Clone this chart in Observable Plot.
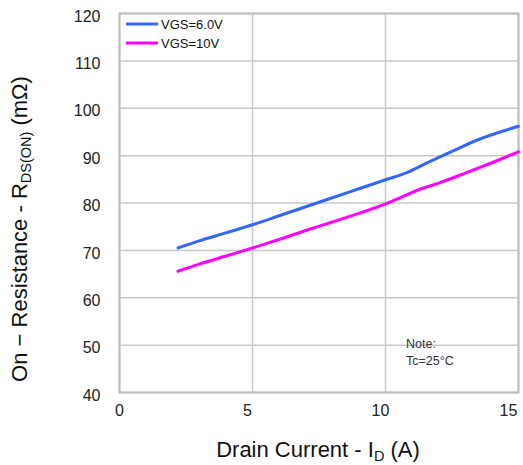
<!DOCTYPE html>
<html><head><meta charset="utf-8">
<script src="https://cdn.jsdelivr.net/npm/d3@7"></script>
<script src="https://cdn.jsdelivr.net/npm/@observablehq/plot@0.6"></script>
<style>body{margin:0;background:#fff}</style>
</head><body><div id="chart"></div>
<script>
const seriesNames = ["VGS=6.0V", "VGS=10V"];
const seriesColors = ["#3366ff", "#ff00ff"];
const currentVgs6 = [2.2, 3, 4, 5, 6, 7, 8, 9, 10, 10.8, 11.5, 12.5, 13.5, 15];
const rdsVgs6 = [70.5, 72, 73.7, 75.4, 77.3, 79.2, 81.1, 83, 84.9, 86.4, 88.3, 90.9, 93.4, 96.2];
const currentVgs10 = [2.2, 3, 4, 5, 6, 7, 8, 9, 10, 10.5, 11.3, 12, 13, 14, 15];
const rdsVgs10 = [65.6, 67.1, 68.8, 70.5, 72.3, 74.2, 76, 77.8, 79.8, 81, 82.9, 84.2, 86.3, 88.5, 90.8];
const xTicks = [0, 5, 10, 15];
const yTicks = [40, 50, 60, 70, 80, 90, 100, 110, 120];

const data = [
  ...currentVgs6.map((x, i) => ({series: seriesNames[0], x, y: rdsVgs6[i]})),
  ...currentVgs10.map((x, i) => ({series: seriesNames[1], x, y: rdsVgs10[i]}))
];

const font = "Liberation Sans, Arial, sans-serif";
const tickStyle = {tickSize: 0, fontSize: 16, fill: "#222", label: null};
const plot = Plot.plot({
  width: 523, height: 465,
  marginLeft: 119, marginRight: 5, marginTop: 13, marginBottom: 73,
  style: {fontFamily: font, background: "#fff"},
  x: {domain: [0, 15], label: null},
  y: {domain: [40, 120], label: null},
  color: {domain: seriesNames, range: seriesColors},
  marks: [
    Plot.gridX(xTicks, {stroke: "#c8c8c8", strokeOpacity: 1, strokeWidth: 1.5}),
    Plot.gridY(yTicks, {stroke: "#c8c8c8", strokeOpacity: 1, strokeWidth: 1.5}),
    Plot.frame({stroke: "#bdbdbd", strokeWidth: 2}),
    Plot.axisX(xTicks.slice(0, 1), {...tickStyle, tickPadding: 12}),
    Plot.axisX(xTicks.slice(1, 3), {...tickStyle, tickPadding: 12, dx: -5}),
    Plot.axisX(xTicks.slice(3), {...tickStyle, tickPadding: 12, dx: -10}),
    Plot.axisY(yTicks, {...tickStyle, tickPadding: 19, dy: 3}),
    Plot.line(data, {x: "x", y: "y", z: "series", stroke: "series", strokeWidth: 3, curve: "monotone-x"})
  ]
});
document.getElementById("chart").appendChild(plot);

const svg = d3.select(plot);

// legend
seriesNames.forEach((name, i) => {
  const ly = 24 + i * 19;
  svg.append("line").attr("x1", 126).attr("x2", 158).attr("y1", ly).attr("y2", ly)
    .attr("stroke", seriesColors[i]).attr("stroke-width", 3);
  svg.append("text").attr("x", 161).attr("y", ly).attr("dy", "0.35em").attr("text-anchor", "start")
    .attr("font-size", 13).attr("font-family", font).attr("fill", "#111").text(name);
});

// note
const note = svg.append("text").attr("font-size", 12.5).attr("font-family", font)
  .attr("fill", "#333").attr("text-anchor", "start");
note.append("tspan").attr("x", 406).attr("y", 348).text("Note:");
note.append("tspan").attr("x", 406).attr("y", 365).text("Tc=25°C");

// x axis label
const xl = svg.append("text").attr("x", 318).attr("y", 457).attr("text-anchor", "middle")
  .attr("font-size", 22).attr("font-family", font).attr("fill", "#111");
xl.append("tspan").text("Drain Current - I");
xl.append("tspan").attr("font-size", 14.5).attr("dy", 4).text("D");
xl.append("tspan").attr("dy", -4).text(" (A)");

// y axis label
const yl = svg.append("text").attr("transform", "translate(27,229) rotate(-90)").attr("text-anchor", "middle")
  .attr("font-size", 22).attr("font-family", font).attr("fill", "#111");
yl.append("tspan").text("On − Resistance - R");
yl.append("tspan").attr("font-size", 14.5).attr("dy", 4).text("DS(ON)");
yl.append("tspan").attr("dy", -4).text(" (mΩ)");
</script></body></html>
